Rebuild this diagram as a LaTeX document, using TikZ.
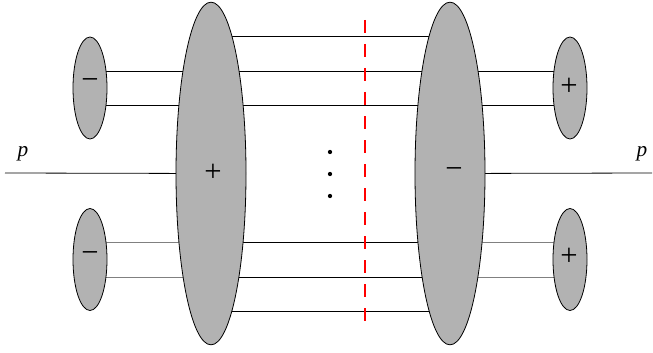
\documentclass[tikz,border=0pt]{standalone}
\usepackage{fontspec}
\setmainfont{Liberation Serif}
\usetikzlibrary{shapes.geometric, backgrounds}

\begin{document}
\begin{tikzpicture}[x=0.75pt, y=-0.75pt,
    blob/.style={ellipse, draw, fill=black!30, inner sep=0pt, line width=0.6pt},
    bigblob/.style={blob, minimum width=52.5pt, minimum height=257pt},
    smallblob/.style={blob, minimum width=25.5pt, minimum height=76.5pt},
    sign/.style={font=\fontsize{23}{23}\selectfont, inner sep=0pt},
    wire/.style={line width=0.6pt},
    softwire/.style={wire, black!50},
    cut/.style={red, line width=1.3pt, dash pattern=on 9.75pt off 8.25pt}]
    \useasboundingbox (0,0) rectangle (653,353);

    % Blobs
    \node[bigblob] (L) at (211,173.5) {};
    \node[bigblob] (R) at (450,173.5) {};
    \node[smallblob] (LT) at (90,88) {};
    \node[smallblob] (LB) at (90,259.5) {};
    \node[smallblob] (RT) at (570,88) {};
    \node[smallblob] (RB) at (570,259.5) {};

    % Signs
    \node[sign] (sL) at (213,173) {+};
    \node[sign] (sR) at (454,173) {−};
    \node[sign] (sLT) at (90,84) {−};
    \node[sign] (sLB) at (90,257) {−};
    \node[sign] (sRT) at (569,87) {+};
    \node[sign] (sRB) at (569,257) {+};

    % External lines
    \coordinate (pin) at (5,173);
    \coordinate (pout) at (652,173);
    \node[font=\fontsize{16}{16}\selectfont\itshape] (pl) at (23,154) {p};
    \node[font=\fontsize{16}{16}\selectfont\itshape] (pr) at (642,154) {p};

    % Wires behind the blobs
    \begin{scope}[on background layer]
        \draw[wire] (pin) -- (L.center);
        \draw[wire] (R.center) -- (pout);
        \foreach \y in {71,105} {
            \draw[wire] (LT.center |- 0,\y) -- (L.center |- 0,\y);
            \draw[wire] (R.center |- 0,\y) -- (RT.center |- 0,\y);
        }
        \foreach \y in {242,277} {
            \draw[softwire] (LB.center |- 0,\y) -- (L.center |- 0,\y);
            \draw[softwire] (R.center |- 0,\y) -- (RB.center |- 0,\y);
        }
        \foreach \y in {36,71,105,242,277,311}
            \draw[wire] (L.center |- 0,\y) -- (R.center |- 0,\y);
    \end{scope}

    % Dots
    \foreach \y in {152,174,196}
        \fill (330,\y) circle (1.6pt);

    % Cut
    \coordinate (ctop) at (365,20);
    \coordinate (cbot) at (365,330);
    \draw[cut] (ctop) -- (cbot);
\end{tikzpicture}
\end{document}
